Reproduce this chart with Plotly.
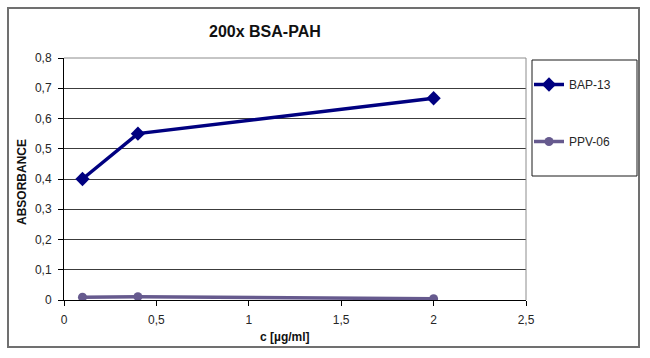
import plotly.graph_objects as go

# ---- data ----
conc = [0.1, 0.4, 2.0]
bap13 = [0.40, 0.55, 0.667]
ppv06 = [0.009, 0.011, 0.004]
series_names = ["BAP-13", "PPV-06"]
x_ticks = [0, 0.5, 1, 1.5, 2, 2.5]
x_ticklabels = ["0", "0,5", "1", "1,5", "2", "2,5"]
y_ticks = [0, 0.1, 0.2, 0.3, 0.4, 0.5, 0.6, 0.7, 0.8]
y_ticklabels = ["0", "0,1", "0,2", "0,3", "0,4", "0,5", "0,6", "0,7", "0,8"]
title_text = "200x BSA-PAH"
x_title = "c [µg/ml]"
y_title = "ABSORBANCE"

# ---- layout geometry (pixels) ----
W, H = 650, 358
L, R, T, B = 64, 526, 58, 300  # plot area


def px(x):
    return (x - L) / (R - L)


def py(y):
    return (B - y) / (B - T)


FONT = "Liberation Sans, Arial, sans-serif"

fig = go.Figure()
fig.add_trace(go.Scatter(
    x=conc, y=bap13, name=series_names[0], mode="lines+markers",
    line=dict(color="#000080", width=3.5),
    marker=dict(symbol="diamond", size=11, color="#000080"),
    legendgroup="a",
))
fig.add_trace(go.Scatter(
    x=conc, y=ppv06, name=series_names[1], mode="lines+markers",
    line=dict(color="#665a8e", width=3.5),
    marker=dict(symbol="circle", size=9, color="#665a8e"),
    legendgroup="b",
))

fig.update_layout(
    width=W, height=H,
    margin=dict(l=L, r=W - R, t=T, b=H - B),
    paper_bgcolor="white", plot_bgcolor="white",
    font=dict(family=FONT, size=12, color="#262626"),
    separators=",.",
    showlegend=True,
    legend=dict(
        x=px(529), y=py(70), xanchor="left", yanchor="top",
        bgcolor="rgba(0,0,0,0)", borderwidth=0,
        font=dict(family=FONT, size=12, color="#262626"),
        tracegroupgap=38, itemwidth=30,
    ),
    xaxis=dict(
        range=[0, 2.5], tickvals=x_ticks, ticktext=x_ticklabels,
        showgrid=False, zeroline=False,
        showline=True, linecolor="black", linewidth=1,
        ticks="outside", ticklen=5, tickcolor="black",
        ticklabelstandoff=4,
        tickfont=dict(size=12, color="#262626"),
    ),
    yaxis=dict(
        range=[0, 0.8], tickvals=y_ticks, ticktext=y_ticklabels,
        showgrid=True, gridcolor="#3c3c3c", gridwidth=1,
        zeroline=False,
        showline=True, linecolor="black", linewidth=1,
        ticks="outside", ticklen=5, tickcolor="black",
        ticklabelstandoff=4,
        tickfont=dict(size=12, color="#262626"),
    ),
    shapes=[
        dict(type="line", xref="paper", yref="paper", x0=0, x1=1, y0=1, y1=1,
             line=dict(color="#8c8c8c", width=1)),
        dict(type="line", xref="paper", yref="paper", x0=1, x1=1, y0=0, y1=1,
             line=dict(color="#8c8c8c", width=1)),
        dict(type="rect", xref="paper", yref="paper",
             x0=px(532), x1=px(637), y0=py(176), y1=py(60),
             line=dict(color="#1a1a1a", width=1)),
        dict(type="rect", xref="paper", yref="paper",
             x0=px(8), x1=px(639), y0=py(347), y1=py(8),
             line=dict(color="#707070", width=2)),
    ],
    annotations=[
        dict(text=f"<b>{title_text}</b>", xref="paper", yref="paper",
             x=px(265), y=py(32), xanchor="center", yanchor="middle",
             showarrow=False,
             font=dict(size=16, color="#111111", family=FONT)),
        dict(text=f"<b>{x_title}</b>", xref="paper", yref="paper",
             x=px(285), y=py(337), xanchor="center", yanchor="middle",
             showarrow=False,
             font=dict(size=12, color="#111111", family=FONT)),
        dict(text=f"<b>{y_title}</b>", xref="paper", yref="paper",
             x=px(22), y=py(182), xanchor="center", yanchor="middle",
             showarrow=False, textangle=-90,
             font=dict(size=12, color="#111111", family=FONT)),
    ],
)

fig.write_html(
    "out.html",
    config={"displayModeBar": False},
    post_script="document.body.style.margin='0';document.body.style.padding='0';document.body.style.overflow='hidden';",
)
